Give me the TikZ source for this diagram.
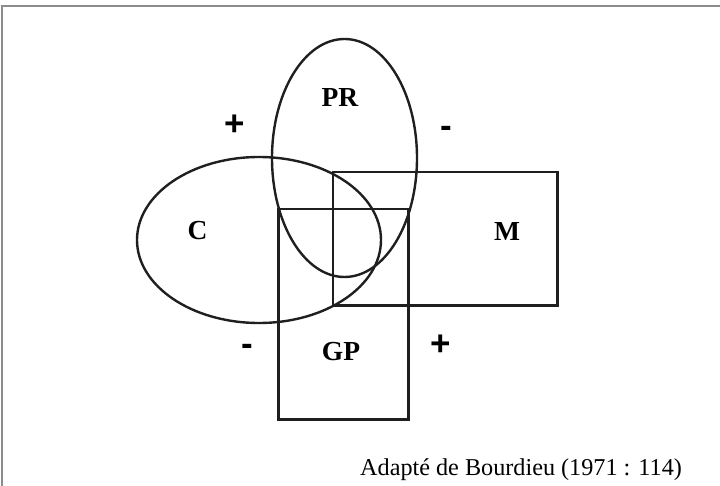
\documentclass[tikz,border=0pt]{standalone}
\usepackage{fontspec}
\setmainfont{Liberation Serif}
\newfontfamily\signfont{Liberation Sans}
\usepackage{xcolor}
\usetikzlibrary{positioning}

\begin{document}
\begin{tikzpicture}[
    x=1pt, y=-1pt,
    fig/.style={draw=black!88, line width=2.4pt},
    frame/.style={draw=gray!90, line width=2pt},
    lbl/.style={inner sep=0pt, font=\fontsize{27.5}{31}\selectfont\bfseries},
    sgn/.style={inner sep=0pt, anchor=base, font=\fontsize{35}{40}\selectfont\signfont\bfseries},
    note/.style={inner sep=0pt, anchor=base west, font=\fontsize{24.2}{28}\selectfont},
]
\useasboundingbox (0,0) rectangle (720,486);

% frame of the figure
\draw[frame] (2,486) -- (2,5.7) -- (720,5.7);

% sets
\draw[fig] (344.5,158) ellipse [x radius=72.5, y radius=119];
\draw[fig] (259,240) ellipse [x radius=122, y radius=83];
\draw[fig] (333,172) rectangle (557.5,305.5);
\draw[fig] (278.5,209) rectangle (408.5,419.5);

% labels
\node[lbl] (pr) at (340,97) {PR};
\node[lbl] (c) at (197.5,231) {C};
\node[lbl] (m) at (507,231) {M};
\node[lbl] (gp) at (341,352) {GP};

% signs
\node[sgn] (plusA) at (235,136) {+};
\node[sgn] (minusA) at (446,137.5) {-};
\node[sgn] (minusB) at (247,355.5) {-};
\node[sgn] (plusB) at (441,355) {+};

\node[note] (src) at (360,475) {Adapté de Bourdieu (1971 : 114)};
\end{tikzpicture}
\end{document}
